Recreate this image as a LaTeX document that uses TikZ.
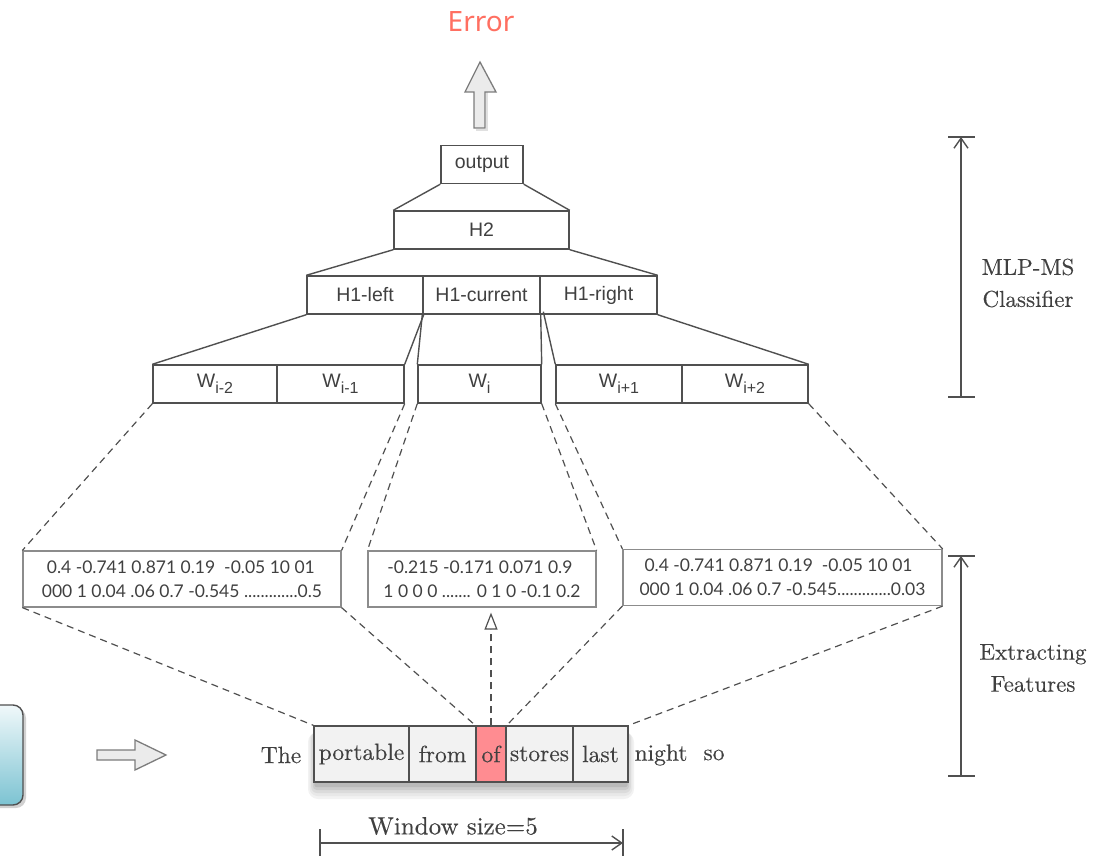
\documentclass[tikz,border=0pt]{standalone}
\usepackage{fontspec}
\newfontfamily\netfont{Liberation Sans}
\newfontfamily\numfont{Lato}
\newfontfamily\errfont{Noto Sans}
\newfontfamily\wordfont{lmroman10-regular.otf}[FakeBold=0.3]
\usepackage{tikz}
\usetikzlibrary{arrows.meta}

\definecolor{linegray}{HTML}{505050}
\definecolor{textgray}{HTML}{404040}
\definecolor{boxgray}{HTML}{8C8C8C}
\definecolor{cellfill}{HTML}{F2F2F2}
\definecolor{ofpink}{HTML}{FF8C91}
\definecolor{errred}{HTML}{FF6F61}
\definecolor{tealtop}{HTML}{F0F8FA}
\definecolor{tealbot}{HTML}{7CC3D2}

\newcommand{\wsub}[1]{W\raisebox{-6pt}{\fontsize{16}{16}\selectfont #1}}

\begin{document}
\begin{tikzpicture}[x=1pt, y=-1pt,
    net/.style={draw=linegray, line width=1.4pt, text=textgray, font=\netfont\fontsize{19.5}{21}\selectfont, minimum height=38, inner sep=0pt},
    feat/.style={draw=boxgray, line width=1.2pt, text=textgray, font=\numfont\fontsize{17.5}{24}\selectfont, minimum height=56, align=left, inner sep=0pt},
    cell/.style={draw=linegray, line width=1.4pt, fill=cellfill, text=textgray, font=\wordfont\fontsize{23.5}{26}\selectfont, minimum height=56, inner sep=0pt},
    word/.style={text=textgray, font=\wordfont\fontsize{23.5}{26}\selectfont, inner sep=0pt},
    side/.style={text=textgray, font=\wordfont\fontsize{23}{32}\selectfont, align=center},
    tree/.style={linegray, line width=1.4pt},
    link/.style={linegray, line width=1.2pt, dash pattern=on 7pt off 5pt},
    dim/.style={linegray, line width=1.4pt},
    blockarrow/.style={draw=linegray!75, line width=1.3pt, fill=black!8, line join=miter}
  ]
  \useasboundingbox (0,0) rectangle (1095,856);

  \node[text=errred, font=\errfont\fontsize{28}{30}\selectfont] (err) at (481,22) {Error};
  \draw[black!12, line width=2pt] (487,92) -- (487,130) -- (476,130);
  \draw[blockarrow]
    (474,128) -- (474,92) -- (465,92) -- (480,62) -- (496,92) -- (485,92) -- (485,128) -- cycle;

  % network
  \node[net, minimum width=82] (out) at (482,164.5) {output};
  \node[net, minimum width=175] (h2) at (481.5,230) {H2};
  \node[net, minimum width=116] (h1l) at (365,295) {H1-left};
  \node[net, minimum width=117] (h1c) at (481.5,295) {H1-current};
  \node[net, minimum width=117] (h1r) at (598.5,295) {H1-right};

  \node[net, minimum width=124] (wa) at (215,384) {\wsub{i-2}};
  \node[net, minimum width=127] (wb) at (340.5,384) {\wsub{i-1}};
  \node[net, minimum width=123] (wc) at (479.5,384) {\wsub{i}};
  \node[net, minimum width=126] (wd) at (619,384) {\wsub{i+1}};
  \node[net, minimum width=126] (we) at (745,384) {\wsub{i+2}};

  \draw[tree] (out.south west) -- (h2.north west);
  \draw[tree] (out.south east) -- (h2.north east);
  \draw[tree] (h2.south west) -- (h1l.north west);
  \draw[tree] (h2.south east) -- (h1r.north east);
  \draw[tree] (h1l.south west) -- (wa.north west);
  \draw[tree] (h1l.south east) -- (wb.north east);
  \draw[tree] (h1c.south west) -- (wc.north west);
  \draw[tree] (h1c.south east) -- (wc.north east);
  \draw[tree] ([xshift=4pt,yshift=3pt]h1r.south west) -- (wd.north west);
  \draw[tree] (h1r.south east) -- (we.north east);

  % features
  \node[feat, minimum width=318] (fl) at (182,579)
    {\hspace{5pt}0.4 -0.741 0.871 0.19\ \ -0.05 10 01\\000 1 0.04 .06 0.7 -0.545 .............0.5};
  \node[feat, minimum width=228] (fm) at (482,579)
    {\hspace{4pt}-0.215 -0.171 0.071 0.9\\1 0 0 0 ....... 0 1 0 -0.1 0.2};
  \node[feat, minimum width=319] (fr) at (782.5,577.5)
    {\hspace{5pt}0.4 -0.741 0.871 0.19\ \ -0.05 10 01\\000 1 0.04 .06 0.7 -0.545.............0.03};

  \draw[link] (wa.south west) -- (fl.north west);
  \draw[link] (wb.south east) -- (fl.north east);
  \draw[link] (wc.south west) -- (fm.north west);
  \draw[link] (wc.south east) -- (fm.north east);
  \draw[link] (wd.south west) -- (fr.north west);
  \draw[link] (we.south east) -- (fr.north east);

  % window
  \foreach \g/\c in {10/5, 8/9, 6/14, 4/20, 2/27}
    \fill[black!\c, rounded corners=\g pt] ({316-0.8*\g},732) rectangle ({626+0.8*\g},{784+1.5*\g});
  \node[cell, minimum width=95] (port) at (361.5,754) {portable};
  \node[cell, minimum width=67] (from) at (442.5,754) {from};
  \node[cell, minimum width=30, fill=ofpink] (of) at (491,754) {of};
  \node[cell, minimum width=67] (stores) at (539.5,754) {stores};
  \node[cell, minimum width=55] (last) at (600.5,754) {last};
  \node[word] (the) at (281,755) {The};
  \node[word] (night) at (661,755) {night};
  \node[word] (so) at (714,755) {so};

  \draw[link] (fl.south west) -- (port.north west);
  \draw[link] (fl.south east) -- (of.north west);
  \draw[link] (fr.south west) -- (of.north east);
  \draw[link] (fr.south east) -- (last.north east);
  \draw[link, -{Triangle[open, length=17pt, width=13pt, line width=1.2pt]}, shorten >=5pt] (of.north) -- (of.north |- fm.south);

  % input side
  \fill[black!18, rounded corners=10pt] (-28,708) rectangle (26,808);
  \draw[draw=linegray, line width=1.4pt, rounded corners=10pt, top color=tealtop, bottom color=tealbot] (-30,705) rectangle (23,805);
  \draw[blockarrow] (97,750) -- (135,750) -- (135,740) -- (166,755) -- (135,770) -- (135,760) -- (97,760) -- cycle;

  % window size
  \coordinate (winl) at (320,843);
  \coordinate (winr) at (623,843);
  \draw[dim] ([yshift=14pt]winl) -- ([yshift=-14pt]winl);
  \draw[dim] ([yshift=14pt]winr) -- ([yshift=-14pt]winr);
  \draw[dim, -{Straight Barb[length=10pt, width=14pt]}] (winl) -- (winr);
  \node[word, font=\wordfont\fontsize{25}{28}\selectfont] (winsize) at (453,826) {Window size=5};

  % stages
  \coordinate (mlptop) at (961,137);
  \coordinate (mlpbot) at (961,397);
  \draw[dim] ([xshift=-13pt]mlptop) -- ([xshift=14pt]mlptop);
  \draw[dim] ([xshift=-13pt]mlpbot) -- ([xshift=14pt]mlpbot);
  \draw[dim, -{Straight Barb[length=10pt, width=14pt]}] (mlpbot) -- (mlptop);
  \node[side] (mlp) at (1028,283) {MLP-MS\\Classifier};

  \coordinate (exttop) at (961,556);
  \coordinate (extbot) at (961,776);
  \draw[dim] ([xshift=-13pt]exttop) -- ([xshift=14pt]exttop);
  \draw[dim] ([xshift=-13pt]extbot) -- ([xshift=14pt]extbot);
  \draw[dim, -{Straight Barb[length=10pt, width=14pt]}] (extbot) -- (exttop);
  \node[side] (ext) at (1033,668) {Extracting\\Features};
\end{tikzpicture}
\end{document}
